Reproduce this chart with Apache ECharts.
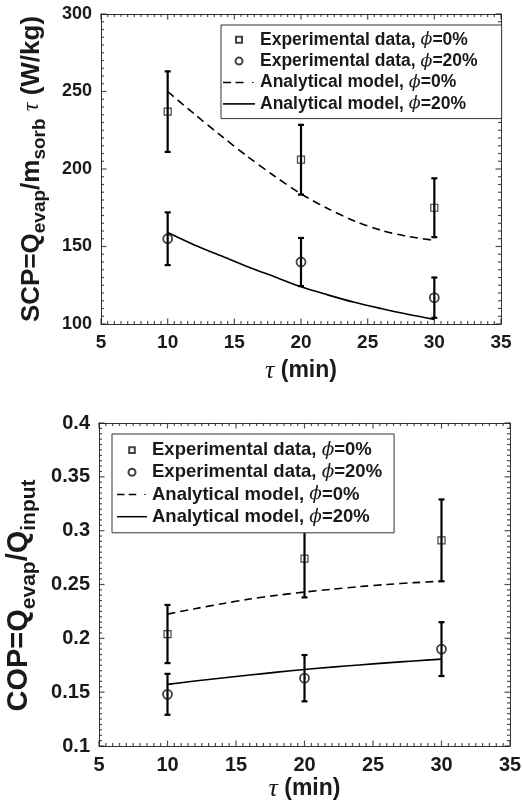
<!DOCTYPE html>
<html><head><meta charset="utf-8">
<script src="https://cdn.jsdelivr.net/npm/echarts@6/dist/echarts.min.js"></script>
<style>html,body{margin:0;padding:0;background:#fff}#c{width:522px;height:810px}</style>
</head><body><div id="c"></div>
<script>
// ---- data ----
const tau = [10, 20, 30];
const tauModel = [10, 12, 14, 16, 18, 20, 22, 24, 26, 28, 30];
const xTicks = [5, 10, 15, 20, 25, 30, 35];
const scpTicks = [100, 150, 200, 250, 300];
const copTicks = [0.1, 0.15, 0.2, 0.25, 0.3, 0.35, 0.4];
const scpExp0 = [237, 206, 175];
const scpErr0 = [26, 22.5, 19];
const scpExp20 = [155, 140, 117];
const scpErr20 = [17, 15.5, 13];
const scpModel0 = [250, 235.5, 221.5, 208, 195.5, 184, 174.5, 166.5, 160.5, 156.5, 154];
const scpModel20 = [159, 151, 144, 137, 130.5, 124, 118.8, 114, 110, 106.3, 103];
const copExp0 = [0.204, 0.274, 0.291];
const copErr0 = [0.027, 0.036, 0.038];
const copExp20 = [0.148, 0.163, 0.190];
const copErr20 = [0.019, 0.0215, 0.025];
const copModel0 = [0.2225, 0.2275, 0.2322, 0.2365, 0.240, 0.243, 0.2456, 0.248, 0.250, 0.2517, 0.253];
const copModel20 = [0.1572, 0.1603, 0.1632, 0.1659, 0.1686, 0.1711, 0.1733, 0.1753, 0.1772, 0.179, 0.1807];
const legendNames = ['Experimental data, ϕ=0%', 'Experimental data, ϕ=20%', 'Analytical model, ϕ=0%', 'Analytical model, ϕ=20%'];
const MINOR_PER_MAJOR = 10;

const SANS = 'Liberation Sans, Arial, sans-serif';
const SERIF = 'DejaVu Serif, Liberation Serif, serif';
const TXT = '#1a1a1a';
const AXC = '#333';

function xAxis(grid, position, showLabel, fs, nameGap) {
  return {
    type: 'value', gridIndex: grid, position: position,
    min: xTicks[0], max: xTicks[xTicks.length - 1], interval: xTicks[1] - xTicks[0],
    axisLine: { show: true, onZero: false, lineStyle: { color: AXC, width: 1 } },
    axisTick: { show: false }, minorTick: { show: false },
    splitLine: { show: false },
    axisLabel: { show: showLabel, fontSize: fs, fontWeight: 'bold', fontFamily: SANS, color: TXT, margin: 9 },
    name: showLabel ? '{t|τ}{b| (min)}' : '',
    nameLocation: 'middle', nameGap: nameGap,
    nameTextStyle: {
      fontSize: 23, fontWeight: 'bold', fontFamily: SANS, color: TXT, lineHeight: 26,
      rich: {
        t: { fontFamily: 'Liberation Serif, serif', fontStyle: 'italic', fontWeight: 'normal', fontSize: 26, color: TXT, lineHeight: 26 },
        b: { fontFamily: SANS, fontWeight: 'bold', fontSize: 23, color: TXT, lineHeight: 26 }
      }
    }
  };
}

function yAxis(grid, position, showLabel, ticks, fs, name, nameGap, mainFs, subFs, lh, subPad) {
  return {
    type: 'value', gridIndex: grid, position: position,
    min: ticks[0], max: ticks[ticks.length - 1], interval: +(ticks[1] - ticks[0]).toFixed(4),
    axisLine: { show: true, onZero: false, lineStyle: { color: AXC, width: 1 } },
    axisTick: { show: false }, minorTick: { show: false },
    splitLine: { show: false },
    axisLabel: { show: showLabel, fontSize: fs, fontWeight: 'bold', fontFamily: SANS, color: TXT, margin: 9 },
    name: name, nameLocation: 'middle', nameRotate: 90, nameGap: nameGap,
    nameTextStyle: {
      fontSize: mainFs, fontWeight: 'bold', fontFamily: SANS, color: TXT, lineHeight: lh,
      rich: {
        m: { fontSize: mainFs, fontWeight: 'bold', fontFamily: SANS, color: TXT, lineHeight: lh },
        s: { fontSize: subFs, fontWeight: 'bold', fontFamily: SANS, color: TXT, lineHeight: lh, padding: [subPad, 0, 0, 0] },
        se: { fontSize: subFs, fontWeight: 'bold', fontFamily: SANS, color: TXT, lineHeight: lh, padding: [subPad, 22, 0, 0] },
        t: { fontSize: 24, fontWeight: 'normal', fontStyle: 'italic', fontFamily: 'Liberation Serif, serif', color: TXT, lineHeight: lh }
      }
    }
  };
}

// inward tick marks (major + minor) on all four sides, placed through the axes' scales
function tickSeries(xi, yi, xt, yt) {
  const items = [];
  const xMin = xt[0], xMax = xt[xt.length - 1], yMin = yt[0], yMax = yt[yt.length - 1];
  function each(arr, fn) {
    for (let i = 0; i < arr.length - 1; i++) {
      for (let k = 0; k < MINOR_PER_MAJOR; k++) {
        fn(arr[i] + k * (arr[i + 1] - arr[i]) / MINOR_PER_MAJOR, k === 0);
      }
    }
    fn(arr[arr.length - 1], true);
  }
  each(xt, function (v, major) {
    const L = major ? 5.5 : 3;
    items.push({ value: [v, yMin], symbolSize: [1.2, L], symbolOffset: [0, -L / 2] });
    items.push({ value: [v, yMax], symbolSize: [1.2, L], symbolOffset: [0, L / 2] });
  });
  each(yt, function (v, major) {
    const L = major ? 5.5 : 3;
    items.push({ value: [xMin, v], symbolSize: [L, 1.2], symbolOffset: [L / 2, 0] });
    items.push({ value: [xMax, v], symbolSize: [L, 1.2], symbolOffset: [-L / 2, 0] });
  });
  return {
    type: 'scatter', xAxisIndex: xi, yAxisIndex: yi, z: 1, silent: true, clip: false,
    symbol: 'rect', itemStyle: { color: '#222' }, emphasis: { disabled: true },
    data: items
  };
}

function errSeries(xi, yi, vals, errs) {
  return {
    type: 'custom', xAxisIndex: xi, yAxisIndex: yi, z: 3, silent: true,
    encode: { x: 0, y: [1, 2] },
    data: tau.map((t, i) => [t, vals[i] - errs[i], vals[i] + errs[i]]),
    renderItem: function (params, api) {
      const lo = api.coord([api.value(0), api.value(1)]);
      const hi = api.coord([api.value(0), api.value(2)]);
      const w = 3;
      const st = { stroke: '#000', lineWidth: 2.2 };
      return {
        type: 'group', children: [
          { type: 'line', shape: { x1: lo[0], y1: lo[1], x2: hi[0], y2: hi[1] }, style: st },
          { type: 'line', shape: { x1: lo[0] - w, y1: lo[1], x2: lo[0] + w, y2: lo[1] }, style: st },
          { type: 'line', shape: { x1: hi[0] - w, y1: hi[1], x2: hi[0] + w, y2: hi[1] }, style: st }
        ]
      };
    }
  };
}

function expSeries(name, xi, yi, vals, symbol, size, bw) {
  return {
    type: 'scatter', name: name, xAxisIndex: xi, yAxisIndex: yi, z: 4,
    symbol: symbol, symbolSize: size,
    itemStyle: { color: 'rgba(0,0,0,0)', borderColor: '#111', borderWidth: bw },
    data: tau.map((t, i) => [t, vals[i]])
  };
}

function modelSeries(name, xi, yi, vals, dashed) {
  return {
    type: 'line', name: name, xAxisIndex: xi, yAxisIndex: yi, z: 2,
    symbol: 'none', showSymbol: false, smooth: 0.3,
    itemStyle: { color: '#000' },
    lineStyle: { color: '#000', width: 1.6, type: dashed ? [8, 5] : 'solid' },
    data: tauModel.map((t, i) => [t, vals[i]])
  };
}

// legend icon shapes (moveTo corners fix the icon box to 32x7)
const ICON_SQUARE = 'path://M0,0M32,7M13,0.5L19,0.5L19,6.5L13,6.5Z';
const ICON_DASH = 'path://M0,0M32,7M0,2.7L8,2.7L8,4.3L0,4.3ZM12.5,2.7L20.5,2.7L20.5,4.3L12.5,4.3ZM29,2.9L30.5,2.9L30.5,4.1L29,4.1Z';
const ICON_SOLID = 'path://M0,0M32,7M0,2.7L32,2.7L32,4.3L0,4.3Z';

function legend(left, top, fs, lh, itemW, pad) {
  return {
    orient: 'vertical', left: left, top: top, padding: pad, itemGap: 0,
    itemWidth: itemW, itemHeight: 7, selectedMode: false,
    backgroundColor: '#fff', borderColor: '#333', borderWidth: 1, z: 10,
    data: [
      { name: legendNames[0], icon: ICON_SQUARE },
      { name: legendNames[1] },
      { name: legendNames[2], icon: ICON_DASH },
      { name: legendNames[3], icon: ICON_SOLID }
    ],
    formatter: function (n) { return n.replace('ϕ', '{phi|ϕ}'); },
    textStyle: {
      fontSize: fs, fontWeight: 'bold', fontFamily: SANS, color: TXT, lineHeight: lh,
      rich: { phi: { fontSize: fs, fontStyle: 'italic', fontWeight: 'normal', fontFamily: SERIF, color: TXT, lineHeight: lh } }
    }
  };
}

const chart = echarts.init(document.getElementById('c'), null, { renderer: 'canvas' });
chart.setOption({
  animation: false,
  backgroundColor: '#fff',
  grid: [
    { left: 101, top: 14, width: 400, height: 310, outerBoundsMode: 'none', containLabel: false },
    { left: 99, top: 423, width: 411, height: 323, outerBoundsMode: 'none', containLabel: false }
  ],
  xAxis: [
    xAxis(0, 'bottom', true, 19, 34),
    xAxis(0, 'top', false, 19, 0),
    xAxis(1, 'bottom', true, 20, 27),
    xAxis(1, 'top', false, 20, 0)
  ],
  yAxis: [
    yAxis(0, 'left', true, scpTicks, 18, '{m|SCP=Q}{s|evap}{m|/m}{s|sorb}{m| }{t|τ}{m| (W/kg)}', 51, 26, 19, 36, 16),
    yAxis(0, 'right', false, scpTicks, 18, '', 0, 26, 19, 36, 16),
    yAxis(1, 'left', true, copTicks, 20, '{m|COP=Q}{s|evap}{m|/Q}{se|input}', 58, 29, 21, 42, 20),
    yAxis(1, 'right', false, copTicks, 20, '', 0, 29, 21, 42, 20)
  ],
  legend: [
    legend(221, 25, 17.5, 21.4, 32, [4, 24, 4, 1]),
    legend(112, 434, 18.5, 22.2, 30, [5, 12, 5, 4])
  ],
  series: [
    tickSeries(0, 0, xTicks, scpTicks),
    errSeries(0, 0, scpExp0, scpErr0),
    errSeries(0, 0, scpExp20, scpErr20),
    modelSeries(legendNames[2], 0, 0, scpModel0, true),
    modelSeries(legendNames[3], 0, 0, scpModel20, false),
    expSeries(legendNames[0], 0, 0, scpExp0, 'rect', 7, 1.2),
    expSeries(legendNames[1], 0, 0, scpExp20, 'circle', 9, 1.8),
    tickSeries(2, 2, xTicks, copTicks),
    errSeries(2, 2, copExp0, copErr0),
    errSeries(2, 2, copExp20, copErr20),
    modelSeries(legendNames[2], 2, 2, copModel0, true),
    modelSeries(legendNames[3], 2, 2, copModel20, false),
    expSeries(legendNames[0], 2, 2, copExp0, 'rect', 7, 1.2),
    expSeries(legendNames[1], 2, 2, copExp20, 'circle', 9, 1.8)
  ]
});
</script></body></html>
